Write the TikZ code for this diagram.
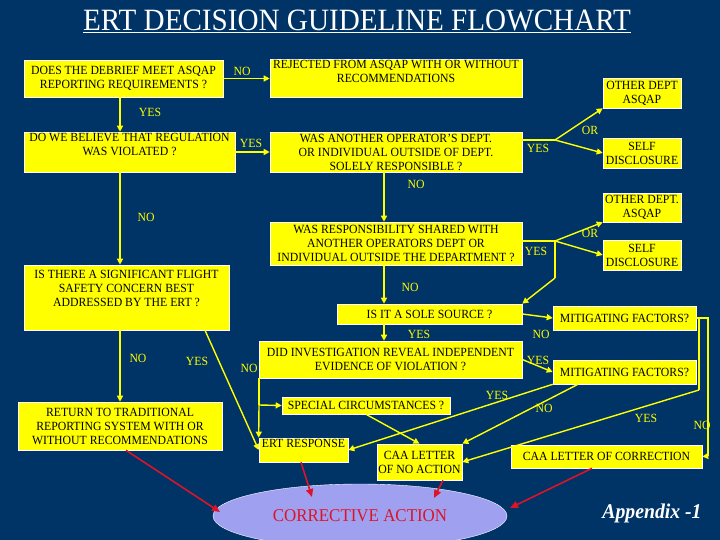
\documentclass[tikz,border=0pt]{standalone}
\usepackage{fontspec}
\setmainfont{Liberation Serif}[FakeStretch=0.94]
\usetikzlibrary{shapes.geometric,arrows.meta}
\definecolor{bg}{RGB}{0,51,102}
\definecolor{yel}{RGB}{255,255,0}
\definecolor{lav}{RGB}{160,160,240}
\definecolor{redd}{RGB}{220,20,40}
\tikzset{
 bx/.style={fill=yel,draw=white,line width=0.6pt,inner sep=0pt,align=center,font=\fontsize{12.5}{14}\selectfont,text=black},
 lb/.style={text=yel,font=\fontsize{12.5}{13}\selectfont,inner sep=0pt},
 yl/.style={draw=yel,line width=1.4pt,-{Triangle[length=6pt,width=6pt]}},
 yn/.style={draw=yel,line width=1.4pt},
 rl/.style={draw=redd,line width=1.6pt,-{Triangle[length=8pt,width=7pt]}}
}
\begin{document}
\begin{tikzpicture}[x=1pt,y=-1pt]
\fill[bg] (0,0) rectangle (720,540);
\useasboundingbox (0,0) rectangle (720,540);
\node[text=white,font=\fontsize{31}{32}\selectfont,inner sep=0pt] (t) at (357,21) {\underline{ERT DECISION GUIDELINE FLOWCHART}};
\def\B#1#2#3#4#5#6{\node[bx,minimum width=#4-#2,minimum height=#5-#3] (#1) at ({(#2+#4)/2},{(#3+#5)/2}) {#6};}
\B{A}{24}{60}{223}{97}{DOES THE DEBRIEF MEET ASQAP\\REPORTING REQUIREMENTS ?}
\B{B}{270}{60}{522}{97}{REJECTED FROM ASQAP WITH OR WITHOUT\\RECOMMENDATIONS\\[-3pt]\strut}
\B{C}{24}{132}{235}{172}{DO WE BELIEVE THAT REGULATION\\WAS VIOLATED ?\\[-3pt]\strut}
\B{D}{270}{132}{522}{172}{WAS ANOTHER OPERATOR'S DEPT.\\OR INDIVIDUAL OUTSIDE OF DEPT.\\SOLELY RESPONSIBLE ?}
\B{E}{603}{78}{681}{108}{OTHER DEPT\\ASQAP}
\B{F}{603}{138}{681}{168}{SELF\\DISCLOSURE}
\B{G}{603}{193}{681}{222}{OTHER DEPT.\\ASQAP}
\B{H}{603}{240}{681}{270}{SELF\\DISCLOSURE}
\B{I}{270}{222}{522}{265}{WAS RESPONSIBILITY SHARED WITH\\ANOTHER OPERATORS DEPT OR\\INDIVIDUAL OUTSIDE THE DEPARTMENT ?}
\B{J}{24}{265}{229}{330}{IS THERE A SIGNIFICANT FLIGHT\\SAFETY CONCERN BEST\\ADDRESSED BY THE ERT ?\\\strut}
\B{K}{337}{304}{522}{324}{IS IT A SOLE SOURCE ?}
\B{L}{553}{306}{696}{330}{MITIGATING FACTORS?}
\B{M}{259}{341}{522}{378}{DID INVESTIGATION REVEAL INDEPENDENT\\EVIDENCE OF VIOLATION ?}
\B{N}{553}{360}{696}{384}{MITIGATING FACTORS?}
\B{O}{18}{402}{222}{450}{RETURN TO TRADITIONAL\\REPORTING SYSTEM WITH OR\\WITHOUT RECOMMENDATIONS}
\B{P}{282}{397}{450}{414}{SPECIAL CIRCUMSTANCES ?}
\B{Q}{259}{438}{348}{462}{ERT RESPONSE\\[-4pt]\strut}
\B{R}{377}{444}{462}{480}{CAA LETTER\\OF NO ACTION}
\B{S}{511}{445}{702}{468}{CAA LETTER OF CORRECTION}
\node[ellipse,fill=lav,draw=white,minimum width=294,minimum height=64,text=redd,font=\fontsize{18}{19}\selectfont] (Z) at (360,516) {CORRECTIVE ACTION};
\node[text=white,font=\fontsize{21}{22}\selectfont\bfseries\itshape] (ap) at (652,513) {Appendix -1};
\coordinate (j1) at (555,140); \coordinate (j2) at (555,241); \coordinate (j3) at (555,278);
\coordinate (m1) at (259,378); \coordinate (m2) at (259,405);
\coordinate (l1) at (699,318); \coordinate (l2) at (699,390); \coordinate (l3) at (708,318); \coordinate (l4) at (708,456);
\draw[yl] (A.east) -- (B.west);
\draw[yl] (A.south -| 120,0) -- (C.north -| 120,0);
\draw[yl] (C.east) -- (D.west);
\draw[yn] (D.north east |- j1) -- (j1);
\draw[yl] (j1) -- (E.south west);
\draw[yl] (j1) -- (F.west);
\draw[yl] (D.south -| 384,0) -- (I.north -| 384,0);
\draw[yn] (I.east |- j2) -- (j2);
\draw[yl] (j2) -- (G.south west);
\draw[yl] (j2) -- (H.west);
\draw[yn] (j2) -- (j3);
\draw[yl] (j3) -- (K.north east);
\draw[yl] (C.south -| 120,0) -- (J.north -| 120,0);
\draw[yl] (I.south -| 384,0) -- (K.north -| 384,0);
\draw[yl] (K.east) -- (L.west);
\draw[yl] (K.south -| 384,0) -- (M.north -| 384,0);
\draw[yl] (M.east) -- (N.west);
\draw[yl] (J.south -| 120,0) -- (O.north -| 120,0);
\draw[yl] (J.south -| 205,0) -- (Q.west);
\draw[yn] (m1) -- (m2);
\draw[yl] (m2) -- (P.west);
\draw[yl] (m2) -- (Q.north west);
\draw[yl] (P.south) -- (R.north);
\draw[yl] (N.south west) -- (Q.east);
\draw[yl] (N.south -| 578,0) -- (R.north east);
\draw[yn] (L.east) -- (l1) -- (l2);
\draw[yl] (l2) -- (R.east);
\draw[yn] (L.east) -- (l3) -- (l4);
\draw[yl] (l4) -- (S.east);
\draw[rl] (O.south -| 126,0) -- (220,512);
\draw[rl] (Q.south -| 301,0) -- (312,497);
\draw[rl] (R.south -| 443,0) -- (434,498);
\draw[rl] (S.south -| 592,0) -- (510,508);
\node[lb] (n1) at (242,71) {NO};
\node[lb] (n2) at (150,112) {YES};
\node[lb] (n3) at (251,143) {YES};
\node[lb] (n4) at (590,130) {OR};
\node[lb] (n5) at (538,148) {YES};
\node[lb] (n6) at (416,184) {NO};
\node[lb] (n7) at (146,217) {NO};
\node[lb] (n8) at (590,233) {OR};
\node[lb] (n9) at (536,251) {YES};
\node[lb] (n10) at (410,287) {NO};
\node[lb] (n11) at (419,334) {YES};
\node[lb] (n12) at (541,334) {NO};
\node[lb] (n13) at (138,358) {NO};
\node[lb] (n14) at (197,361) {YES};
\node[lb] (n15) at (249,368) {NO};
\node[lb] (n16) at (538,360) {YES};
\node[lb] (n17) at (497,395) {YES};
\node[lb] (n18) at (544,408) {NO};
\node[lb] (n19) at (646,418) {YES};
\node[lb] (n20) at (702,425) {NO};
\end{tikzpicture}
\end{document}
